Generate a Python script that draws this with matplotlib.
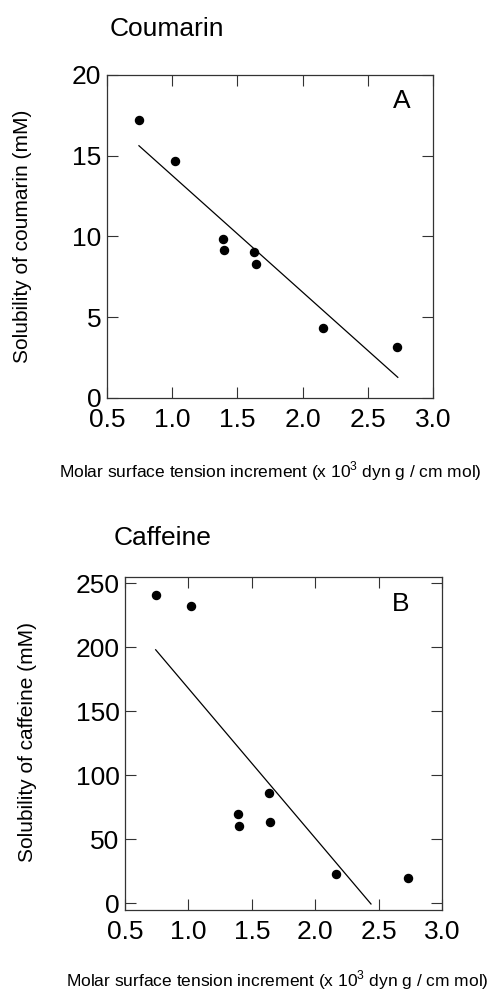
import matplotlib
matplotlib.use("Agg")
from matplotlib import pyplot as plt

plt.rcParams['font.family'] = ['Liberation Sans', 'DejaVu Sans']
plt.rcParams['mathtext.fontset'] = 'custom'
plt.rcParams['mathtext.rm'] = 'Liberation Sans'

# coumarin (panel A)
coum_x = [0.745, 1.02, 1.393, 1.40, 1.63, 1.64, 2.158, 2.727]
coum_y = [17.19, 14.7, 9.87, 9.18, 9.04, 8.28, 4.33, 3.14]
coum_fit_x = [0.745, 2.73]
coum_fit_y = [15.62, 1.28]

# caffeine (panel B)
caff_x = [0.742, 1.021, 1.392, 1.40, 1.632, 1.642, 2.163, 2.73]
caff_y = [240.9, 231.8, 69.5, 60.7, 85.9, 63.3, 22.7, 19.5]
caff_fit_x = [0.742, 2.44]
caff_fit_y = [197.9, -0.5]

x_ticks = [0.5, 1.0, 1.5, 2.0, 2.5, 3.0]
xlabel = "Molar surface tension increment (x 10$^{3}$ dyn g / cm mol)"

W, H = 496, 990
fig = plt.figure(figsize=(W / 100, H / 100), dpi=100)


def px(x0, y0, x1, y1):
    return [x0 / W, 1 - y1 / H, (x1 - x0) / W, (y1 - y0) / H]


def style(ax):
    ax.tick_params(direction='in', length=8, width=0.8, top=True, right=True,
                   labelsize=19, color='#333333')
    ax.tick_params(axis='x', pad=7)
    ax.tick_params(axis='y', pad=4)
    for s in ax.spines.values():
        s.set_linewidth(0.9)
        s.set_color('#333333')
    ax.set_xlim(0.5, 3.0)
    ax.set_xticks(x_ticks)
    ax.set_xticklabels(['%.1f' % t for t in x_ticks])


ax1 = fig.add_axes(px(107, 75, 433, 398))
ax1.plot(coum_fit_x, coum_fit_y, color='black', lw=0.9)
ax1.plot(coum_x, coum_y, 'o', color='black', ms=5.8)
ax1.set_ylim(0, 20)
ax1.set_yticks([0, 5, 10, 15, 20])
style(ax1)
ax1.text(0.905, 0.92, 'A', transform=ax1.transAxes, fontsize=19,
         ha='center', va='center')

ax2 = fig.add_axes(px(125, 577, 442, 910))
ax2.plot(caff_fit_x, caff_fit_y, color='black', lw=0.9)
ax2.plot(caff_x, caff_y, 'o', color='black', ms=5.8)
ax2.set_ylim(-5.2, 254.7)
ax2.set_yticks([0, 50, 100, 150, 200, 250])
style(ax2)
ax2.text(0.87, 0.92, 'B', transform=ax2.transAxes, fontsize=19,
         ha='center', va='center')

# titles and axis labels
fig.text(110 / W, 1 - 29 / H, 'Coumarin', fontsize=19, ha='left', va='center')
fig.text(114 / W, 1 - 538 / H, 'Caffeine', fontsize=19, ha='left', va='center')
fig.text(23 / W, 1 - 236 / H, 'Solubility of coumarin (mM)', fontsize=15,
         rotation=90, ha='center', va='center')
fig.text(28 / W, 1 - 742 / H, 'Solubility of caffeine (mM)', fontsize=15,
         rotation=90, ha='center', va='center')
fig.text(270 / W, 1 - 471 / H, xlabel, fontsize=12.5, ha='center', va='center')
fig.text(277 / W, 1 - 980 / H, xlabel, fontsize=12.5, ha='center', va='center')

fig.savefig('out.png', dpi=100)
